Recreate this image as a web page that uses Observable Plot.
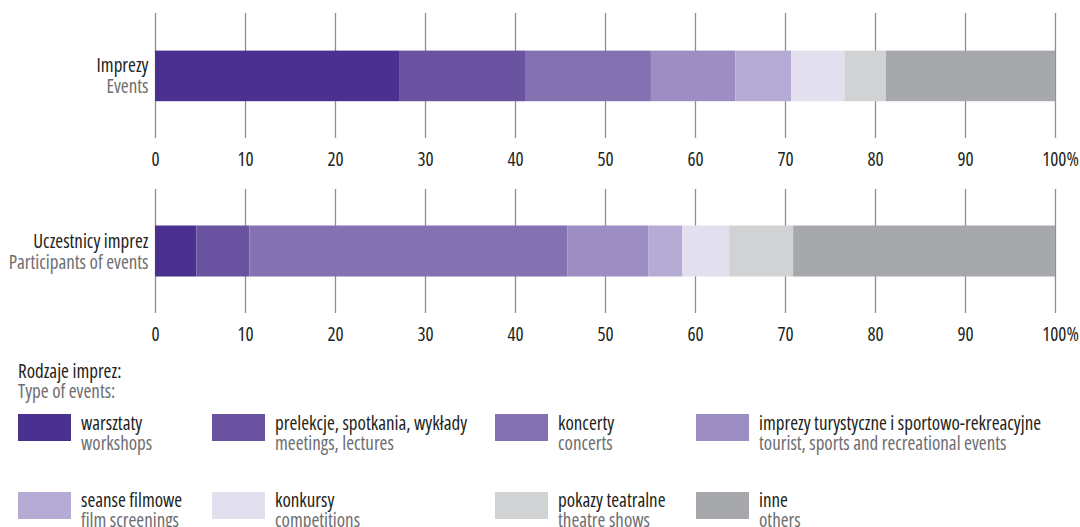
<!DOCTYPE html>
<html>
<head>
<meta charset="utf-8">
<script src="https://cdn.jsdelivr.net/npm/d3@7"></script>
<script src="https://cdn.jsdelivr.net/npm/@observablehq/plot@0.6"></script>
<style>
  html, body { margin: 0; padding: 0; background: #fff; overflow: hidden; }
  #root { position: relative; width: 1080px; height: 527px; font-family: "Open Sans", sans-serif; font-stretch: 75%; }
  #root svg { display: block; }
  .lg { position: absolute; font-size: 19px; line-height: 20px; white-space: nowrap; font-family: "Open Sans", sans-serif; font-stretch: 75%; }
  .pl { color: #231f20; }
  .en { color: #6d6e71; }
  .sw { position: absolute; width: 53px; height: 27px; }
</style>
</head>
<body>
<div id="root"></div>
<script>
// ---- data ----
const categories = ["warsztaty", "prelekcje, spotkania, wykłady", "koncerty", "imprezy turystyczne i sportowo-rekreacyjne", "seanse filmowe", "konkursy", "pokazy teatralne", "inne"];
const categoriesEn = ["workshops", "meetings, lectures", "concerts", "tourist, sports and recreational events", "film screenings", "competitions", "theatre shows", "others"];
const colors = ["#4a3190", "#6953a1", "#8471b1", "#9c8ec3", "#b5abd4", "#e2e0ef", "#d1d2d4", "#a7a8ab"];
const rowLabels = ["Imprezy", "Uczestnicy imprez"];
const rowLabelsEn = ["Events", "Participants of events"];
const imprezyValues = [27.2, 14.0, 13.9, 9.4, 6.2, 5.9, 4.6, 18.8];
const uczestnicyValues = [4.6, 5.9, 35.3, 9.0, 3.8, 5.2, 7.1, 29.1];
const xTicks = [0, 10, 20, 30, 40, 50, 60, 70, 80, 90, 100];
const legendTitle = ["Rodzaje imprez:", "Type of events:"];

const FONT = `"Open Sans", sans-serif`;
const FS = 19;
const root = document.getElementById("root");

function chart(rowPl, rowEn, values, opts) {
  const data = categories.map((c, i) => ({row: rowPl, cat: c, value: values[i]}));
  const axisOpts = {tickSize: 0, tickPadding: 14, fill: "#231f20", fontSize: FS, label: null};
  return Plot.plot({
    width: 1080,
    height: 176,
    marginLeft: 155,
    marginRight: 25,
    marginTop: 13,
    marginBottom: opts.marginBottom,
    x: {domain: [0, 100], axis: null},
    y: {domain: [rowPl], axis: null, padding: 0},
    color: {domain: categories, range: colors},
    style: {fontFamily: FONT, fontStretch: "75%", fontSize: FS + "px", background: "white", overflow: "visible"},
    marks: [
      Plot.gridX(xTicks, {stroke: "#8f8f8f", strokeOpacity: 1, strokeWidth: 1.3}),
      Plot.barX(data, Plot.stackX({x: "value", y: "row", fill: "cat", order: categories,
        insetTop: opts.insetTop, insetBottom: opts.insetBottom})),
      Plot.axisX(xTicks.filter(d => d < 100), {...axisOpts, tickFormat: d => String(d)}),
      Plot.axisX(xTicks.filter(d => d === 100), {...axisOpts, dx: 5, tickFormat: d => d + "%"}),
      Plot.text([rowPl], {y: d => d, text: d => d, frameAnchor: "left", textAnchor: "end",
        dx: -7, dy: -10, fill: "#231f20", fontSize: FS}),
      Plot.text([rowPl], {y: d => d, text: () => rowEn, frameAnchor: "left", textAnchor: "end",
        dx: -7, dy: 11, fill: "#6d6e71", fontSize: FS})
    ]
  });
}

root.appendChild(chart(rowLabels[0], rowLabelsEn[0], imprezyValues, {marginBottom: 38, insetTop: 37.6, insetBottom: 36.8}));
root.appendChild(chart(rowLabels[1], rowLabelsEn[1], uczestnicyValues, {marginBottom: 39, insetTop: 36.5, insetBottom: 36.5}));

// ---- legend ----
const title = document.createElement("div");
title.className = "lg";
title.style.left = "18px";
title.style.top = "361px";
title.innerHTML = `<div class="pl">${legendTitle[0]}</div><div class="en">${legendTitle[1]}</div>`;
root.appendChild(title);

const colX = [18, 212, 495, 696];
const rowY = [414, 492];
categories.forEach((c, i) => {
  const col = i % 4, row = Math.floor(i / 4);
  const sw = document.createElement("div");
  sw.className = "sw";
  sw.style.left = colX[col] + "px";
  sw.style.top = rowY[row] + "px";
  sw.style.background = colors[i];
  root.appendChild(sw);
  const t = document.createElement("div");
  t.className = "lg";
  t.style.left = (colX[col] + 63) + "px";
  t.style.top = (rowY[row] - 1.5 - row) + "px";
  t.innerHTML = `<div class="pl">${c}</div><div class="en">${categoriesEn[i]}</div>`;
  root.appendChild(t);
});
</script>
</body>
</html>
